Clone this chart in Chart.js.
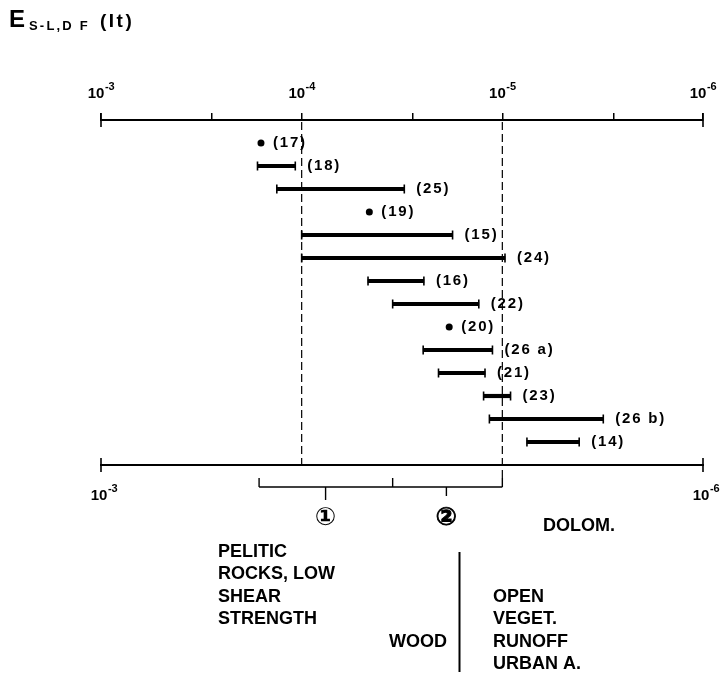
<!DOCTYPE html>
<html><head><meta charset="utf-8">
<script src="https://cdn.jsdelivr.net/npm/chart.js@4.4.1/dist/chart.umd.min.js"></script>
<style>html,body{margin:0;padding:0;background:#fff;} #wrap{position:relative;width:725px;height:679px;}</style>
</head><body><div id="wrap"><canvas id="c"></canvas></div>
<script>
// ---- data ----
const rowLabels   = ['(17)','(18)','(25)','(19)','(15)','(24)','(16)','(22)','(20)','(26 a)','(21)','(23)','(26 b)','(14)'];
const rangeStart  = [null, 1.66e-4, 1.33e-4, null, 1.0e-4, 1.0e-4, 4.67e-5, 3.52e-5, null, 2.48e-5, 2.08e-5, 1.24e-5, 1.16e-5, 7.54e-6];
const rangeEnd    = [null, 1.076e-4, 3.08e-5, null, 1.77e-5, 9.7e-6, 2.46e-5, 1.31e-5, null, 1.12e-5, 1.22e-5, 9.1e-6, 3.14e-6, 4.14e-6];
const pointValue  = [1.595e-4, null, null, 4.6e-5, null, null, null, null, 1.84e-5, null, null, null, null, null];
const topTickValues    = [1e-3, 1e-4, 1e-5, 1e-6];
const topTickBase      = ['10','10','10','10'];
const topTickExponent  = ['-3','-4','-5','-6'];
const minorTickValues  = [2.8e-4, 2.8e-5, 2.8e-6];
const bottomTickValues = [1e-3, 1e-6];
const bottomTickBase   = ['10','10'];
const bottomTickExponent = ['-3','-6'];
const refLineValues    = [1e-4, 1e-5];
const bracketValues    = [1.63e-4, 3.52e-5, 1e-5];   // left end, divider, right end
const groupPointers    = [7.6e-5, 1.9e-5];
const groupLabels      = ['\u2460','\u2461'];
const dolomLabel = 'DOLOM.';
const leftTextLines  = ['PELITIC','ROCKS, LOW','SHEAR','STRENGTH'];
const woodLabel = 'WOOD';
const rightTextLines = ['OPEN','VEGET.','RUNOFF','URBAN A.'];

// ---- build ----
const FONT = "'Liberation Sans', Arial, 'DejaVu Sans', sans-serif";
Chart.defaults.color = '#000';
Chart.defaults.font.family = FONT;

const barData = [], capData = [], dotData = [];
rowLabels.forEach((l, i) => {
  if (rangeStart[i] != null) {
    barData.push({y: i, x: [rangeStart[i], rangeEnd[i]]});
    capData.push({y: i, x: rangeStart[i]}, {y: i, x: rangeEnd[i]});
  }
  if (pointValue[i] != null) dotData.push({y: i, x: pointValue[i]});
});

function line(ctx, x1, y1, x2, y2) { ctx.beginPath(); ctx.moveTo(x1, y1); ctx.lineTo(x2, y2); ctx.stroke(); }
function spaced(ctx, sp) { if ('letterSpacing' in ctx) ctx.letterSpacing = sp; }
function powerLabel(ctx, base, exp, cx, baseY) {
  ctx.font = 'bold 15px ' + FONT;
  const wb = ctx.measureText(base).width;
  ctx.font = 'bold 11px ' + FONT;
  const we = ctx.measureText(exp).width;
  const x0 = cx - (wb + we) / 2;
  ctx.font = 'bold 15px ' + FONT;
  ctx.fillText(base, x0, baseY);
  ctx.font = 'bold 11px ' + FONT;
  ctx.fillText(exp, x0 + wb + 0.5, baseY - 8);
}

const annot = {
  id: 'annot',
  afterDatasetsDraw(chart) {
    const ctx = chart.ctx, xs = chart.scales.x, ys = chart.scales.y;
    ctx.save();
    ctx.fillStyle = '#000';
    ctx.font = 'bold 15px ' + FONT;
    spaced(ctx, '1.8px');
    ctx.textBaseline = 'middle';
    ctx.textAlign = 'left';
    rowLabels.forEach((l, i) => {
      const v = rangeEnd[i] != null ? rangeEnd[i] : pointValue[i];
      ctx.fillText(l, xs.getPixelForValue(v) + 12, ys.getPixelForValue(i));
    });
    ctx.restore();
  },
  afterDraw(chart) {
    const ctx = chart.ctx, xs = chart.scales.x, x2 = chart.scales.x2, ca = chart.chartArea;
    ctx.save();
    ctx.strokeStyle = '#000'; ctx.fillStyle = '#000';
    // tick labels (10 with superscript exponent)
    ctx.textAlign = 'left'; ctx.textBaseline = 'alphabetic';
    topTickValues.forEach((v, k) => powerLabel(ctx, topTickBase[k], topTickExponent[k], xs.getPixelForValue(v), ca.top - 22));
    bottomTickValues.forEach((v, k) => powerLabel(ctx, bottomTickBase[k], bottomTickExponent[k], x2.getPixelForValue(v) + 3, ca.bottom + 35));
    // axis end markers
    ctx.lineWidth = 1.6;
    [ca.top, ca.bottom].forEach(yy => [xs.min, xs.max].forEach(v => {
      const px = xs.getPixelForValue(v); line(ctx, px, yy - 7, px, yy + 7);
    }));
    // bracket
    const by = ca.bottom + 22;
    const bx = bracketValues.map(v => xs.getPixelForValue(v));
    ctx.lineWidth = 1.4;
    line(ctx, bx[0], by, bx[2], by);
    bx.forEach(px => line(ctx, px, by - 9, px, by));
    groupPointers.forEach((v, k) => {
      const px = xs.getPixelForValue(v); line(ctx, px, by, px, by + (k === 0 ? 13 : 9));
    });
    // dashed reference lines
    ctx.lineWidth = 1.2; ctx.setLineDash([8, 4]);
    refLineValues.forEach((v, k) => {
      const px = xs.getPixelForValue(v);
      line(ctx, px, ca.top + 2, px, k === refLineValues.length - 1 ? by - 9 : ca.bottom);
    });
    ctx.setLineDash([]);
    // circled group labels
    ctx.textAlign = 'center'; ctx.textBaseline = 'middle';
    ctx.font = 'bold 25px ' + FONT;
    ctx.lineWidth = 0.9;
    groupPointers.forEach((v, k) => {
      const px = xs.getPixelForValue(v);
      ctx.fillText(groupLabels[k], px, by + 31);
      if (k === 1) ctx.strokeText(groupLabels[k], px, by + 31);
    });
    // text annotations
    ctx.font = 'bold 18px ' + FONT;
    ctx.textAlign = 'left';
    ctx.fillText(dolomLabel, 543, 526);
    leftTextLines.forEach((t, k) => ctx.fillText(t, 218, 552 + k * 22.5));
    ctx.textAlign = 'right';
    ctx.fillText(woodLabel, 447, 552 + 4 * 22.5);
    ctx.textAlign = 'left';
    rightTextLines.forEach((t, k) => ctx.fillText(t, 493, 597 + k * 22.5));
    ctx.lineWidth = 2;
    line(ctx, 459.5, 552, 459.5, 672);
    // title
    ctx.textBaseline = 'alphabetic';
    ctx.font = 'bold 24px ' + FONT;
    ctx.fillText('E', 9, 27);
    ctx.font = 'bold 13px ' + FONT;
    spaced(ctx, '2.2px');
    ctx.fillText('S-L,D F', 29, 30);
    ctx.font = 'bold 19px ' + FONT;
    spaced(ctx, '2.5px');
    ctx.fillText('(It)', 100, 27);
    ctx.restore();
  }
};

const noPad = s => { s.paddingLeft = 0; s.paddingRight = 0; s.paddingTop = 0; s.paddingBottom = 0; };

new Chart(document.getElementById('c'), {
  type: 'scatter',
  data: {
    datasets: [
      { type: 'bar', indexAxis: 'y', data: barData, xAxisID: 'x', yAxisID: 'y',
        backgroundColor: '#000', borderWidth: 0, barThickness: 3.5 },
      { type: 'scatter', data: capData, xAxisID: 'x', yAxisID: 'y',
        pointStyle: 'line', rotation: 90, pointRadius: 4.5, borderWidth: 1.6,
        borderColor: '#000', backgroundColor: '#000', pointHoverRadius: 4.5 },
      { type: 'scatter', data: dotData, xAxisID: 'x', yAxisID: 'y',
        pointStyle: 'circle', pointRadius: 3.5, borderWidth: 0,
        backgroundColor: '#000', borderColor: '#000' }
    ]
  },
  options: {
    responsive: true, maintainAspectRatio: false, animation: false,
    events: [],
    layout: { padding: { left: 101, right: 22, top: 80, bottom: 174 } },
    plugins: { legend: { display: false }, title: { display: false }, tooltip: { enabled: false } },
    scales: {
      x: {
        type: 'logarithmic', position: 'top', min: 1e-6, max: 1e-3, reverse: true,
        afterBuildTicks: s => { s.ticks = topTickValues.concat(minorTickValues).sort((a, b) => b - a).map(v => ({ value: v })); },
        afterFit: s => { s.height = 40; noPad(s); },
        ticks: { autoSkip: false, maxRotation: 0, padding: 11, display: true, callback: () => '' },
        grid: { display: true, drawOnChartArea: false, drawTicks: true, tickLength: 7, color: '#000', lineWidth: 1.5 },
        border: { display: true, color: '#000', width: 2 }
      },
      x2: {
        type: 'logarithmic', position: 'bottom', min: 1e-6, max: 1e-3, reverse: true,
        afterBuildTicks: s => { s.ticks = bottomTickValues.map(v => ({ value: v })); },
        afterFit: s => { s.height = 40; noPad(s); },
        ticks: { autoSkip: false, maxRotation: 0, callback: () => '' },
        grid: { display: false, drawTicks: false },
        border: { display: true, color: '#000', width: 2 }
      },
      y: { type: 'linear', min: -1, max: 14, reverse: true, display: false, offset: false, grid: { offset: false } }
    }
  },
  plugins: [annot]
});
</script>
</body></html>
